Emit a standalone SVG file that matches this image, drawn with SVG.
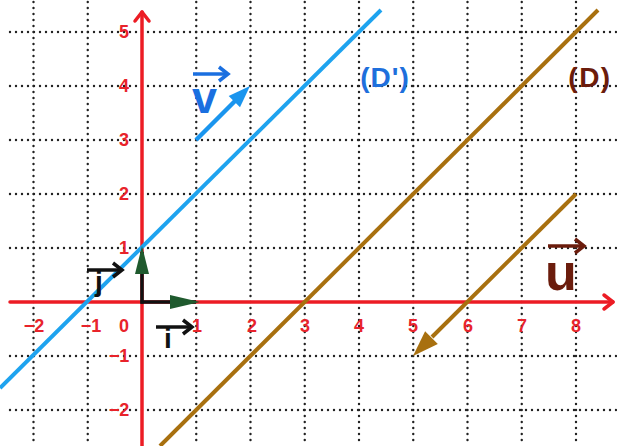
<svg xmlns="http://www.w3.org/2000/svg" width="617" height="446" viewBox="0 0 617 446">
<style>
.grid line{stroke:#222;stroke-width:2.4;stroke-linecap:round;stroke-dasharray:0 6;}
.ax{stroke:#ec1c24;stroke-width:3.5;fill:none;stroke-linecap:round;stroke-linejoin:round;}
.num{font-family:"Liberation Sans",Arial,sans-serif;font-size:18px;font-weight:bold;fill:#e8232b;text-anchor:middle;}
.lbl{font-family:"Liberation Sans",Arial,sans-serif;font-weight:bold;}
</style>
<rect width="617" height="446" fill="#fff"/>
<g id="grid" class="grid">
<line x1="10" y1="32" x2="617" y2="32"/>
<line x1="10" y1="86" x2="617" y2="86"/>
<line x1="10" y1="140" x2="617" y2="140"/>
<line x1="10" y1="194" x2="617" y2="194"/>
<line x1="10" y1="248" x2="617" y2="248"/>
<line x1="10" y1="356" x2="617" y2="356"/>
<line x1="10" y1="410" x2="617" y2="410"/>
<line x1="33.5" y1="2" x2="33.5" y2="446"/>
<line x1="87.75" y1="2" x2="87.75" y2="446"/>
<line x1="196.25" y1="2" x2="196.25" y2="446"/>
<line x1="250.5" y1="2" x2="250.5" y2="446"/>
<line x1="304.75" y1="2" x2="304.75" y2="446"/>
<line x1="359" y1="2" x2="359" y2="446"/>
<line x1="413.25" y1="2" x2="413.25" y2="446"/>
<line x1="467.5" y1="2" x2="467.5" y2="446"/>
<line x1="521.75" y1="2" x2="521.75" y2="446"/>
<line x1="576" y1="2" x2="576" y2="446"/>
</g>
<g id="axes">
<line class="ax" x1="10" y1="302" x2="613" y2="302"/>
<polyline class="ax" points="604,295 613,302 604,309"/>
<line class="ax" x1="142" y1="446" x2="142" y2="12"/>
<polyline class="ax" points="135,21 142,12 149,21"/>
</g>
<g id="axis-labels" class="num">
<text x="124" y="38">5</text>
<text x="124" y="92">4</text>
<text x="124" y="146">3</text>
<text x="124" y="200">2</text>
<text x="124" y="254">1</text>
<text x="119" y="362">−1</text>
<text x="119" y="416">−2</text>
<text x="34" y="332">−2</text>
<text x="91" y="332">−1</text>
<text x="124" y="332">0</text>
<text x="197" y="332">1</text>
<text x="252" y="332">2</text>
<text x="305" y="332">3</text>
<text x="359" y="332">4</text>
<text x="413" y="332">5</text>
<text x="468" y="332">6</text>
<text x="522" y="332">7</text>
<text x="576" y="332">8</text>
</g>
<g id="line-Dprime">
<line x1="0" y1="388" x2="381" y2="10" stroke="#1ea3ef" stroke-width="4"/>
<text class="lbl" x="385" y="87" font-size="28" letter-spacing="1" fill="#1e6fdc" text-anchor="middle">(D')</text>
</g>
<g id="line-D">
<line x1="160" y1="446" x2="598" y2="10" stroke="#a8700f" stroke-width="4"/>
<text class="lbl" x="590" y="87" font-size="28" letter-spacing="1.5" fill="#6b1c0c" text-anchor="middle">(D)</text>
</g>
<g id="vector-v">
<line x1="196" y1="140" x2="236" y2="100" stroke="#1a95ee" stroke-width="4.5"/>
<polygon points="250,86 240,107.2 228.7,95.9" fill="#1a95ee"/>
<text class="lbl" x="192" y="113" font-size="45" fill="#1a6fe0">v</text>
<line x1="193" y1="74" x2="226" y2="74" stroke="#1a6fe0" stroke-width="3.5"/>
<polyline points="219,67 228,74 219,81" fill="none" stroke="#1a6fe0" stroke-width="3.5" stroke-linejoin="miter"/>
</g>
<g id="vector-u">
<line x1="576" y1="194" x2="432" y2="337" stroke="#a8700f" stroke-width="4"/>
<polygon points="413,356 437.8,344.1 425.1,331.3" fill="#a8700f"/>
<text class="lbl" x="545" y="290" font-size="52" fill="#6b1c0c">u</text>
<line x1="548" y1="246" x2="582" y2="246" stroke="#6b1c0c" stroke-width="3.5"/>
<polyline points="575,239 584,246 575,253" fill="none" stroke="#6b1c0c" stroke-width="3.5"/>
</g>
<g id="vector-i">
<line x1="140.5" y1="302" x2="196" y2="302" stroke="#111" stroke-width="3.5"/>
<polygon points="170,295 200,302 170,309" fill="#1f5a2e"/>
<text class="lbl" x="168" y="348" font-size="28" fill="#111" text-anchor="middle">i</text>
<line x1="156" y1="327" x2="190" y2="327" stroke="#111" stroke-width="3.5"/>
<polyline points="183,320 192,327 183,334" fill="none" stroke="#111" stroke-width="3.5"/>
</g>
<g id="vector-j">
<line x1="142" y1="303.7" x2="142" y2="252" stroke="#111" stroke-width="3.5"/>
<polygon points="135,274 142,246 149,274" fill="#1f5a2e"/>
<text class="lbl" x="99" y="291" font-size="28" fill="#111" text-anchor="middle">j</text>
<line x1="87" y1="270" x2="120" y2="270" stroke="#111" stroke-width="3.5"/>
<polyline points="113,263 122,270 113,277" fill="none" stroke="#111" stroke-width="3.5"/>
</g>
</svg>
